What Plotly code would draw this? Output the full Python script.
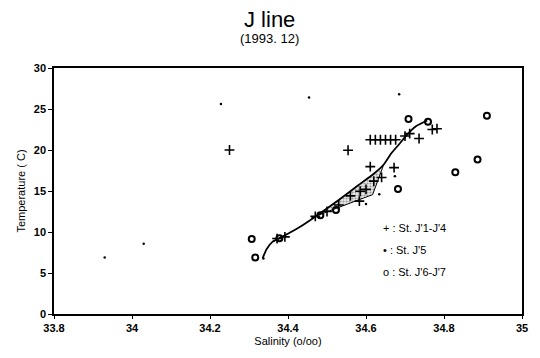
import plotly.graph_objects as go

# T-S observations, December 1993, J line
j1_4_sal = [34.25, 34.554, 34.611, 34.624, 34.637, 34.650, 34.663, 34.676,
            34.700, 34.712, 34.736, 34.770, 34.782, 34.611, 34.672, 34.640,
            34.585, 34.583, 34.620, 34.600, 34.560, 34.530, 34.500, 34.470,
            34.392, 34.372]
j1_4_tmp = [20.0, 19.97, 21.25, 21.25, 21.25, 21.25, 21.25, 21.25,
            21.7, 22.0, 21.4, 22.5, 22.6, 17.97, 17.85, 16.65,
            14.97, 13.77, 16.2, 15.2, 14.4, 13.3, 12.5, 11.9,
            9.4, 9.2]

j5_sal = [34.634, 34.600, 34.674, 34.337, 34.228, 34.454, 34.685, 34.030, 33.930]
j5_tmp = [14.6, 13.4, 16.8, 6.76, 25.6, 26.4, 26.8, 8.56, 6.88]

j6_7_sal = [34.709, 34.759, 34.910, 34.886, 34.829, 34.682, 34.307, 34.316,
            34.378, 34.483, 34.523]
j6_7_tmp = [23.77, 23.45, 24.17, 18.85, 17.29, 15.25, 9.16, 6.88,
            9.24, 12.04, 12.68]

# mean T-S curve
curve_sal = [34.335, 34.345, 34.360, 34.385, 34.430, 34.480, 34.530, 34.580,
             34.620, 34.645, 34.665, 34.685, 34.702, 34.728, 34.757]
curve_tmp = [6.8, 7.9, 8.8, 9.4, 10.6, 12.2, 13.9, 15.7,
             17.1, 18.2, 19.6, 20.7, 21.7, 22.9, 23.6]

# spread envelope (upper edge follows the curve, lower edge below)
env_sal = [34.460, 34.480, 34.530, 34.580, 34.620, 34.645,
           34.642, 34.617, 34.582, 34.506, 34.460]
env_tmp = [11.7, 12.2, 13.9, 15.7, 17.1, 18.2,
           17.77, 14.56, 13.96, 12.57, 11.7]

x_ticks = [33.8, 34, 34.2, 34.4, 34.6, 34.8, 35]
y_ticks = [0, 5, 10, 15, 20, 25, 30]

FONT = "Liberation Sans, Arial, sans-serif"

fig = go.Figure()

fig.add_trace(go.Scatter(
    x=env_sal, y=env_tmp, mode="lines", fill="toself",
    fillcolor="rgba(0,0,0,0.12)",
    fillpattern=dict(shape=".", fgcolor="#444", bgcolor="rgba(0,0,0,0.08)",
                     size=3, solidity=0.4),
    line=dict(color="black", width=1), hoverinfo="skip"))

fig.add_trace(go.Scatter(
    x=curve_sal, y=curve_tmp, mode="lines",
    line=dict(color="black", width=1.8, shape="spline", smoothing=0.5)))

fig.add_trace(go.Scatter(
    x=j1_4_sal, y=j1_4_tmp, mode="markers", name="St. J'1-J'4",
    marker=dict(symbol="cross-thin", size=7, color="black",
                line=dict(color="black", width=1.6))))

fig.add_trace(go.Scatter(
    x=j5_sal, y=j5_tmp, mode="markers", name="St. J'5",
    marker=dict(symbol="circle", size=2.5, color="black")))

fig.add_trace(go.Scatter(
    x=j6_7_sal, y=j6_7_tmp, mode="markers", name="St. J'6-J'7",
    marker=dict(symbol="circle-open", size=6, color="black",
                line=dict(color="black", width=2))))

axis_common = dict(
    showgrid=False, zeroline=False, showline=True, linecolor="black",
    linewidth=1.5, mirror=True, ticks="outside", tickcolor="black",
    tickfont=dict(family=FONT, size=11, color="black", weight="bold"))

fig.update_xaxes(range=[33.8, 35], tickvals=x_ticks,
                 ticktext=[str(v) for v in x_ticks], ticklen=3,
                 title=dict(text="Salinity (o/oo)", standoff=4,
                            font=dict(family=FONT, size=11, color="black")),
                 **axis_common)
fig.update_yaxes(range=[0, 30], tickvals=y_ticks, ticklen=4,
                 title=dict(text="Temperature ( C)", standoff=6,
                            font=dict(family=FONT, size=11, color="black")),
                 **axis_common)

fig.update_layout(
    width=540, height=358,
    margin=dict(l=54, r=17, t=68, b=40),
    paper_bgcolor="white", plot_bgcolor="white",
    showlegend=False,
    font=dict(family=FONT, color="black"),
)

# titles and in-plot key
fig.add_annotation(text="J line", xref="paper", yref="paper",
                   x=(270 - 54) / 469, y=(318 - 4) / 250, yanchor="top",
                   showarrow=False,
                   font=dict(family=FONT, size=22, color="black"))
fig.add_annotation(text="(1993. 12)", xref="paper", yref="paper",
                   x=(270 - 54) / 469, y=(318 - 28) / 250, yanchor="top",
                   showarrow=False,
                   font=dict(family=FONT, size=13, color="black"))

key_rows = ["+ : St. J'1-J'4", "• : St. J'5", "o : St. J'6-J'7"]
key_y = [239, 261, 283]
for label, py in zip(key_rows, key_y):
    fig.add_annotation(text=label, xref="paper", yref="paper",
                       x=(382 - 54) / 469, y=(318 - py) / 250,
                       xanchor="left", showarrow=False,
                       font=dict(family=FONT, size=11, color="black"))

fig.write_html("out.html")
